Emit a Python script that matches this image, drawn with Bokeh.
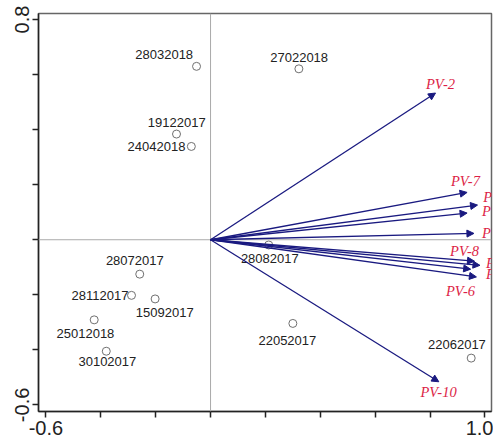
from bokeh.plotting import figure
from bokeh.models import (Range1d, FixedTicker, Span, Arrow, NormalHead,
                          ColumnDataSource)
from bokeh.core.properties import value
from bokeh.embed import file_html
from bokeh.resources import INLINE

# ---- data ----
site_names = ["28032018", "19122017", "24042018", "27022018", "28072017",
              "28112017", "15092017", "25012018", "30102017", "28082017",
              "22052017", "22062017"]
site_x = [-0.051, -0.124, -0.070, 0.322, -0.258, -0.288, -0.202, -0.424,
          -0.380, 0.212, 0.300, 0.950]
site_y = [0.630, 0.384, 0.339, 0.621, -0.125, -0.202, -0.215, -0.291,
          -0.405, -0.019, -0.304, -0.430]
site_label_x = [-0.169, -0.123, -0.197, 0.323, -0.276, -0.403, -0.167,
                -0.456, -0.376, 0.216, 0.280, 0.898]
site_label_y = [0.673, 0.427, 0.340, 0.663, -0.076, -0.203, -0.265, -0.339,
                -0.442, -0.067, -0.366, -0.379]

var_names = ["PV-1", "PV-2", "PV-3", "PV-4", "PV-5", "PV-6", "PV-7", "PV-8",
             "PV-9", "PV-10"]
var_x = [0.973, 0.820, 0.935, 0.960, 0.982, 0.969, 0.935, 0.962, 0.948, 0.832]
var_y = [0.126, 0.533, 0.097, 0.023, -0.093, -0.135, 0.172, -0.078, -0.107,
         -0.516]
var_label_x = [1.047, 0.838, 1.042, 1.042, 1.057, 0.911, 0.929, 0.926, 1.057,
               0.831]
var_label_y = [0.154, 0.567, 0.103, 0.025, -0.083, -0.187, 0.215, -0.040,
               -0.125, -0.553]

x_ticks = [-0.6, -0.4, -0.2, 0.0, 0.2, 0.4, 0.6, 0.8, 1.0]
y_ticks = [-0.6, -0.4, -0.2, 0.0, 0.2, 0.4, 0.6, 0.8]
x_labels = {-0.6: "-0.6", 1.0: "1.0"}
y_labels = {0.8: "0.8", -0.6: "-0.6"}

# ---- figure ----
p = figure(width=493, height=439, output_backend="svg", toolbar_location=None,
           x_range=Range1d(-0.627, 1.024), y_range=Range1d(-0.624, 0.822),
           min_border_left=38, min_border_right=2, min_border_top=13,
           min_border_bottom=28)
p.grid.visible = False
p.outline_line_color = "#666666"
p.outline_line_width = 1.5
p.background_fill_color = "white"
p.border_fill_color = "white"

for ax, ticks, labs in ((p.xaxis[0], x_ticks, x_labels),
                        (p.yaxis[0], y_ticks, y_labels)):
    ax.ticker = FixedTicker(ticks=ticks)
    ax.major_label_overrides = {t: labs.get(t, "") for t in ticks}
    ax.minor_tick_line_color = None
    ax.major_tick_in = 0
    ax.major_tick_out = 6
    ax.major_tick_line_width = 1.5
    ax.major_tick_line_color = "#222222"
    ax.axis_line_width = 1.5
    ax.axis_line_color = "#222222"
    ax.major_label_text_font = "Liberation Sans"
    ax.major_label_text_font_size = "20px"
    ax.major_label_text_color = "#222222"
    ax.major_label_standoff = 3

p.yaxis[0].major_label_orientation = "vertical"

p.add_layout(Span(location=0, dimension="width", line_color="#aaaaaa",
                  line_width=1))
p.add_layout(Span(location=0, dimension="height", line_color="#aaaaaa",
                  line_width=1))

navy = "#1a1a80"
arr_src = ColumnDataSource(dict(x0=[0.0] * len(var_x), y0=[0.0] * len(var_y),
                                x1=var_x, y1=var_y))
p.add_layout(Arrow(end=NormalHead(size=7, fill_color=navy, line_color=navy,
                                  line_width=1),
                   x_start="x0", y_start="y0", x_end="x1", y_end="y1",
                   source=arr_src, line_color=navy, line_width=1.3))

p.text(x=var_label_x, y=var_label_y, text=var_names,
       text_font=value("Liberation Serif"), text_font_style="italic",
       text_font_size="14.5px", text_color="#dc1e46",
       text_align="center", text_baseline="middle")

p.scatter(x=site_x, y=site_y, marker="circle", size=8, fill_color=None,
          line_color="#707070", line_width=1)
p.text(x=site_label_x, y=site_label_y, text=site_names,
       text_font=value("Liberation Sans"), text_font_size="13px",
       text_color="#222222", text_align="center", text_baseline="middle")

open("out.html", "w").write(file_html(p, INLINE))
